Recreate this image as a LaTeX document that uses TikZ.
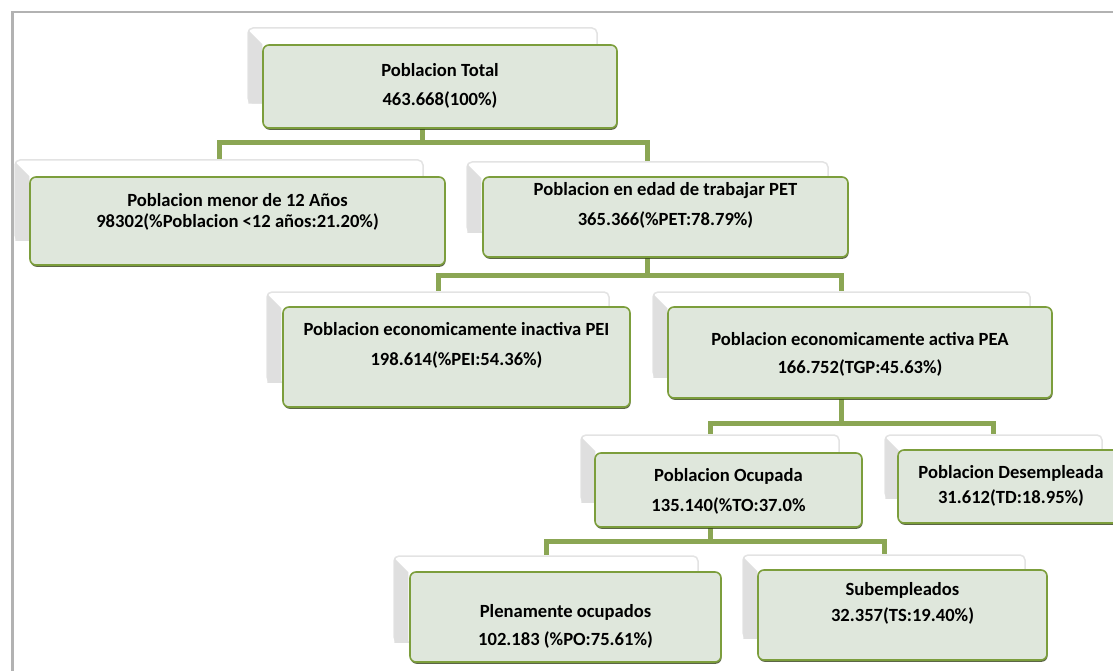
\documentclass[tikz,border=0pt]{standalone}
\usepackage{fontspec}
\setmainfont{Carlito}
\usetikzlibrary{shadows,backgrounds}

\definecolor{linkgreen}{RGB}{139,166,84}
\definecolor{panelfill}{RGB}{223,231,220}
\definecolor{panelline}{RGB}{124,158,60}

\tikzstyle{card}  = [rectangle, draw=gray!22, line width=1.5pt, fill=white, rounded corners=5pt, inner sep=0pt]
\tikzstyle{panel} = [rectangle, draw=panelline, line width=1.6pt, fill=panelfill, rounded corners=6pt, inner sep=0pt,
                     drop shadow={shadow xshift=0.6pt, shadow yshift=-1.8pt, fill=black!60!panelline, opacity=0.8}]
\tikzstyle{bevel} = [fill=gray!25]
\tikzstyle{txt}   = [align=center, font=\fontsize{18.6}{22}\selectfont\bfseries, text=black]
\tikzstyle{link}  = [draw=linkgreen, line width=5pt]

\begin{document}
\begin{tikzpicture}[x=1pt, y=-1pt]
\useasboundingbox (0,0) rectangle (1113,671);

% back cards
\node (tot-b) [card, minimum width=349pt, minimum height=75pt] at (422.5,65.5) {};
\node (men-b) [card, minimum width=408pt, minimum height=80pt] at (219,200) {};
\node (pet-b) [card, minimum width=361pt, minimum height=70pt] at (647.5,197) {};
\node (pei-b) [card, minimum width=342pt, minimum height=90pt] at (438,337) {};
\node (pea-b) [card, minimum width=377pt, minimum height=85pt] at (841.5,334.5) {};
\node (ocu-b) [card, minimum width=258pt, minimum height=67pt] at (710,468.5) {};
\node (des-b) [card, minimum width=217pt, minimum height=63pt] at (993.5,466.5) {};
\node (ple-b) [card, minimum width=304pt, minimum height=86pt] at (546,599) {};
\node (sub-b) [card, minimum width=282pt, minimum height=83pt] at (884,596.5) {};

\foreach \n in {tot,men,pet,pei,pea,ocu,des,ple,sub}
  \fill [bevel] ([shift={(1,3)}]\n-b.north west) -- ++(14,14) -- ([xshift=15pt]\n-b.south west) -- ([xshift=1pt]\n-b.south west) -- cycle;

% front panels
\node (tot) [panel, minimum width=354pt, minimum height=83pt] at (440,86.5) {};
\node (men) [panel, minimum width=415pt, minimum height=88pt] at (237.5,221) {};
\node (pet) [panel, minimum width=365pt, minimum height=80pt] at (665.5,217) {};
\node (pei) [panel, minimum width=347pt, minimum height=100pt] at (456.5,357) {};
\node (pea) [panel, minimum width=384pt, minimum height=91pt] at (860,352.5) {};
\node (ocu) [panel, minimum width=267pt, minimum height=74pt] at (728.5,490) {};
\node (des) [panel, minimum width=226pt, minimum height=73pt] at (1011,486.5) {};
\node (ple) [panel, minimum width=311pt, minimum height=90pt] at (565.5,617) {};
\node (sub) [panel, minimum width=289pt, minimum height=90pt] at (902.5,615) {};

% labels
\node (tot-t) [txt] at (440,86) {Poblacion Total\\[7pt]463.668(100\%)};
\node (men-t) [txt] at (237.5,212) {Poblacion menor de 12 Años\\[-1pt]98302(\%Poblacion <12 años:21.20\%)};
\node (pet-t) [txt] at (665.5,205) {Poblacion en edad de trabajar PET\\[8pt]365.366(\%PET:78.79\%)};
\node (pei-t) [txt] at (456.5,345) {Poblacion economicamente inactiva PEI\\[8pt]198.614(\%PEI:54.36\%)};
\node (pea-t) [txt] at (860,354) {Poblacion economicamente activa PEA\\[6pt]166.752(TGP:45.63\%)};
\node (ocu-t) [txt] at (728.5,491) {Poblacion Ocupada\\[8pt]135.140(\%TO:37.0\%};
\node (des-t) [txt] at (1011,485.5) {Poblacion Desempleada\\[3pt]31.612(TD:18.95\%)};
\node (ple-t) [txt] at (565.5,626) {Plenamente ocupados\\[6pt]102.183 (\%PO:75.61\%)};
\node (sub-t) [txt] at (902.5,603) {Subempleados\\[4pt]32.357(TS:19.40\%)};

\begin{scope}[on background layer]
% frame
\draw [gray!60, line width=2pt] (11,12) -- (1113,12);
\draw [gray!60, line width=3pt] (12,671) -- (12,11);

\coordinate (bar1) at (0,143);
\coordinate (bar2) at (0,275);
\coordinate (bar3) at (0,423);
\coordinate (bar4) at (0,541);

\draw [link] (tot-b.center |- tot.south) -- (tot-b.center |- bar1) -| (men-b.north);
\draw [link] (tot-b.center |- bar1) -| (pet-b.north);
\draw [link] (pet-b.center |- pet.south) -- (pet-b.center |- bar2) -| (pei-b.north);
\draw [link] (pet-b.center |- bar2) -| (pea-b.north);
\draw [link] (pea-b.center |- pea.south) -- (pea-b.center |- bar3) -| (ocu-b.north);
\draw [link] (pea-b.center |- bar3) -| (des-b.north);
\draw [link] (ocu-b.center |- ocu.south) -- (ocu-b.center |- bar4) -| (ple-b.north);
\draw [link] (ocu-b.center |- bar4) -| (sub-b.north);
\end{scope}
\end{tikzpicture}
\end{document}
